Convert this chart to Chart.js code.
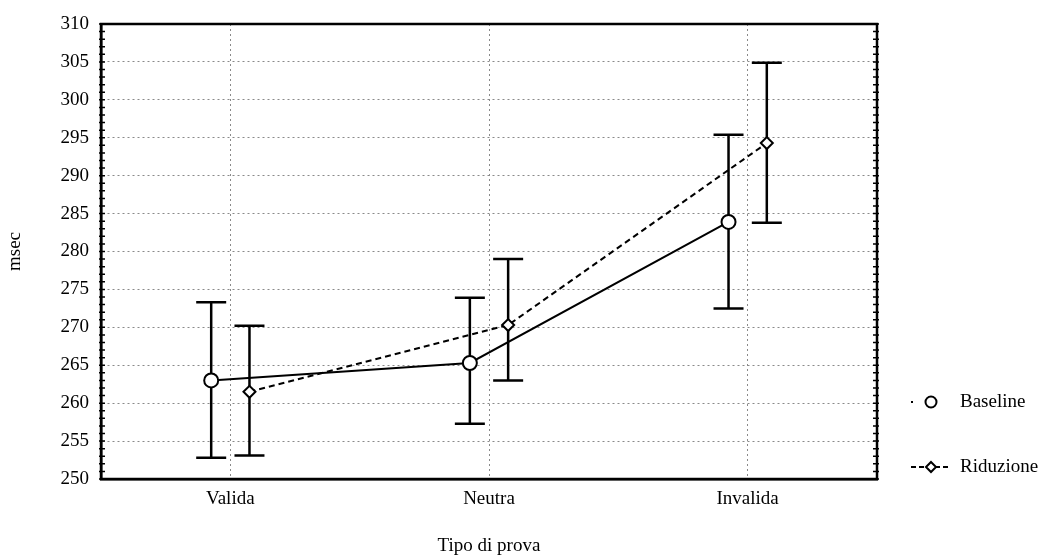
<!DOCTYPE html>
<html>
<head>
<meta charset="utf-8">
<title>Tipo di prova</title>
<script src="https://cdn.jsdelivr.net/npm/chart.js@4.4.0/dist/chart.umd.min.js"></script>
<style>
  body { margin: 0; background: #fff; }
  #wrap { width: 1048px; height: 558px; }
</style>
</head>
<body>
<div id="wrap"><canvas id="grafico" width="1048" height="558"></canvas></div>
<script>
// categorie e valori (msec)
const categories = ['Valida', 'Neutra', 'Invalida'];
const seriesNames = ['Baseline', 'Riduzione'];

const baselineMean = [263.0, 265.3, 283.9];
const baselineHigh = [273.3, 273.9, 295.4];
const baselineLow  = [252.8, 257.3, 272.5];

const riduzioneMean = [261.5, 270.3, 294.3];
const riduzioneHigh = [270.2, 279.0, 304.9];
const riduzioneLow  = [253.1, 263.0, 283.8];

const yMin = 250, yMax = 310, yStep = 5;

const serif = '"Liberation Serif", "DejaVu Serif", serif';
const shift = 0.074; // spostamento delle due serie attorno alla categoria

function toPoints(values, dx) {
  return values.map((v, i) => ({ x: i + dx, y: v }));
}

// barre d'errore, bordo, tacche minori e legenda
const statPlugin = {
  id: 'statPlugin',
  beforeDatasetsDraw(chart) {
    const ctx = chart.ctx;
    const y = chart.scales.y;
    const bars = [[baselineHigh, baselineLow], [riduzioneHigh, riduzioneLow]];
    ctx.save();
    ctx.strokeStyle = '#000';
    ctx.lineWidth = 2.5;
    ctx.setLineDash([]);
    bars.forEach((b, d) => {
      const meta = chart.getDatasetMeta(d);
      meta.data.forEach((pt, i) => {
        const yh = y.getPixelForValue(b[0][i]);
        const yl = y.getPixelForValue(b[1][i]);
        ctx.beginPath();
        ctx.moveTo(pt.x, yh); ctx.lineTo(pt.x, yl);
        ctx.moveTo(pt.x - 15, yh); ctx.lineTo(pt.x + 15, yh);
        ctx.moveTo(pt.x - 15, yl); ctx.lineTo(pt.x + 15, yl);
        ctx.stroke();
      });
    });
    ctx.restore();
  },
  afterDraw(chart) {
    const ctx = chart.ctx;
    const a = chart.chartArea;
    const y = chart.scales.y;
    ctx.save();
    ctx.strokeStyle = '#000';
    ctx.setLineDash([]);
    ctx.lineWidth = 2.5;
    ctx.strokeRect(a.left, a.top, a.right - a.left, a.bottom - a.top);
    // tacche minori
    ctx.lineWidth = 1.5;
    for (let v = yMin; v <= yMax; v++) {
      const py = y.getPixelForValue(v);
      ctx.beginPath();
      ctx.moveTo(a.left - 2, py); ctx.lineTo(a.left + 4, py);
      ctx.moveTo(a.right - 4, py); ctx.lineTo(a.right + 2, py);
      ctx.stroke();
    }
    // legenda
    const items = [
      { style: 'circle', dash: [2, 100], y: a.bottom - 77 },
      { style: 'rectRot', dash: [5, 3], y: a.bottom - 12 }
    ];
    const x0 = a.right + 34;
    items.forEach((it, k) => {
      ctx.lineWidth = 2;
      ctx.setLineDash(it.dash);
      ctx.beginPath();
      ctx.moveTo(x0, it.y); ctx.lineTo(x0 + 40, it.y);
      ctx.stroke();
      ctx.setLineDash([]);
      ctx.fillStyle = '#fff';
      ctx.beginPath();
      const mx = x0 + 20;
      if (it.style === 'circle') {
        ctx.arc(mx, it.y, 5.5, 0, Math.PI * 2);
      } else {
        ctx.moveTo(mx, it.y - 5); ctx.lineTo(mx + 5, it.y);
        ctx.lineTo(mx, it.y + 5); ctx.lineTo(mx - 5, it.y);
        ctx.closePath();
      }
      ctx.fill();
      ctx.stroke();
      ctx.fillStyle = '#000';
      ctx.font = '19px ' + serif;
      ctx.textBaseline = 'middle';
      ctx.textAlign = 'left';
      ctx.fillText(seriesNames[k], x0 + 49, it.y);
    });
    ctx.restore();
  }
};

const config = {
  type: 'line',
  data: {
    datasets: [{
      label: seriesNames[0],
      data: toPoints(baselineMean, -shift),
      borderColor: '#000',
      borderWidth: 2,
      backgroundColor: '#fff',
      pointStyle: 'circle',
      pointRadius: 7,
      pointBorderWidth: 2,
      pointBorderColor: '#000',
      pointBackgroundColor: '#fff',
      tension: 0
    }, {
      label: seriesNames[1],
      data: toPoints(riduzioneMean, shift),
      borderColor: '#000',
      borderWidth: 2,
      borderDash: [6, 4],
      backgroundColor: '#fff',
      pointStyle: 'rectRot',
      pointRadius: 6,
      pointBorderWidth: 2,
      pointBorderColor: '#000',
      pointBackgroundColor: '#fff',
      tension: 0
    }]
  },
  options: {
    responsive: false,
    animation: false,
    layout: { padding: { top: 24, right: 171, left: 0, bottom: 0 } },
    plugins: {
      legend: { display: false },
      tooltip: { enabled: false }
    },
    scales: {
      x: {
        type: 'linear',
        min: -0.5,
        max: 2.5,
        afterBuildTicks: (s) => { s.ticks = categories.map((c, i) => ({ value: i })); },
        afterFit: (s) => { s.height = 79; },
        ticks: {
          callback: (v) => categories[v],
          color: '#000',
          font: { family: serif, size: 19 },
          padding: 9,
          maxRotation: 0
        },
        grid: { color: '#8a8a8a', lineWidth: 1, drawTicks: false },
        border: { display: true, color: '#000', width: 2.5, dash: [2, 3] },
        title: {
          display: true,
          text: 'Tipo di prova',
          color: '#000',
          font: { family: serif, size: 19 },
          padding: { top: 0, bottom: 1 }
        }
      },
      y: {
        min: yMin,
        max: yMax,
        afterFit: (s) => { s.width = 101; },
        ticks: {
          stepSize: yStep,
          color: '#000',
          font: { family: serif, size: 19 },
          padding: 12
        },
        grid: { color: '#8a8a8a', lineWidth: 1, drawTicks: false },
        border: { display: true, color: '#000', width: 2.5, dash: [2, 3] },
        title: {
          display: true,
          text: 'msec',
          color: '#000',
          font: { family: serif, size: 19 },
          padding: { top: 4, bottom: 0 }
        }
      }
    }
  },
  plugins: [statPlugin]
};

const ctx = document.getElementById('grafico');
new Chart(ctx, config);
</script>
</body>
</html>
